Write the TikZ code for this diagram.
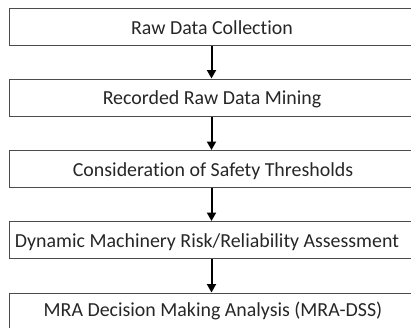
\documentclass[tikz,border=0pt]{standalone}
\usepackage{fontspec}
\setmainfont{Carlito}[Ligatures=CommonOff]
\usetikzlibrary{arrows.meta}
\begin{document}
\begin{tikzpicture}[x=1pt,y=-1pt,
  stepbox/.style={draw=black!70,line width=1pt,minimum width=410pt,minimum height=37pt,anchor=north west,inner sep=0pt},
  steptext/.style={anchor=base,inner sep=0pt,font=\fontsize{19.9}{22}\selectfont,text=black!85},
  flow/.style={-{Triangle[length=8.5pt,width=9pt]},line width=2pt,black}]
\useasboundingbox (0,0) rectangle (411,327);
\node[stepbox] (b1) at (8.5,8) {};
\node[stepbox] (b2) at (8.5,78.5) {};
\node[stepbox] (b3) at (8.5,150) {};
\node[stepbox] (b4) at (8.5,221) {};
\node[stepbox] (b5) at (8.5,292.5) {};
\node[steptext] (t1) at (212,34.3) {Raw Data Collection};
\node[steptext] (t2) at (212,104.3) {Recorded Raw Data Mining};
\node[steptext] (t3) at (213,176.7) {Consideration of Safety Thresholds};
\node[steptext] (t4) at (207,247.3) {Dynamic Machinery Risk/Reliability Assessment};
\node[steptext] (t5) at (213,316.7) {MRA Decision Making Analysis (MRA-DSS)};
\coordinate (ax) at (211.5,0);
\draw[flow] (b1.south -| ax) -- (b2.north -| ax);
\draw[flow] (b2.south -| ax) -- (b3.north -| ax);
\draw[flow] (b3.south -| ax) -- (b4.north -| ax);
\draw[flow] (b4.south -| ax) -- (b5.north -| ax);
\end{tikzpicture}
\end{document}
